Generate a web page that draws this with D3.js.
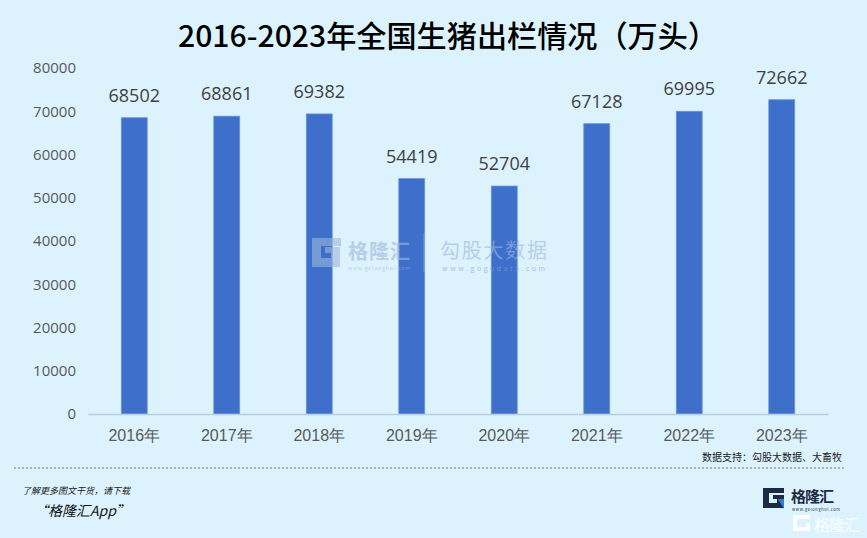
<!DOCTYPE html>
<html><head><meta charset="utf-8">
<script src="https://cdn.jsdelivr.net/npm/d3@7"></script>
<style>
html,body{margin:0;padding:0;background:#dcf3fe;}
svg{display:block;font-family:"Noto Sans CJK SC","Noto Sans",sans-serif;}
</style></head><body>
<svg id="c" width="867" height="538"></svg>
<script>
const categories = ["2016年","2017年","2018年","2019年","2020年","2021年","2022年","2023年"];
const values = [68502, 68861, 69382, 54419, 52704, 67128, 69995, 72662];
const yTicks = [0,10000,20000,30000,40000,50000,60000,70000,80000];
const title = "2016-2023年全国生猪出栏情况（万头）";
const source = "数据支持：勾股大数据、大畜牧";

const svg = d3.select("#c");
svg.append("rect").attr("width",867).attr("height",538).attr("fill","#dcf3fe");

const x = d3.scaleBand().domain(categories).range([88,828]).paddingInner(0.72).paddingOuter(0.36);
const y = d3.scaleLinear().domain([0,80000]).range([414,68]);

// title
svg.append("text").attr("x",448).attr("y",47).attr("text-anchor","middle")
  .attr("font-size",30).attr("font-weight",500).attr("fill","#000")
  .attr("textLength",540).attr("lengthAdjust","spacingAndGlyphs").text(title);

// y axis
const ya = svg.append("g").attr("transform","translate(88,0)")
  .call(d3.axisLeft(y).tickValues(yTicks).tickSize(0).tickPadding(12).tickFormat(d3.format("d")));
ya.select(".domain").remove();
ya.selectAll("text").attr("font-size",15).attr("fill","#595959").attr("font-family","'Open Sans','Noto Sans',sans-serif");

// bars
svg.append("g").selectAll("rect").data(values).join("rect")
  .attr("x",(d,i)=>x(categories[i])).attr("width",x.bandwidth())
  .attr("y",d=>y(d)).attr("height",d=>y(0)-y(d))
  .attr("fill","#3d6fcb").attr("stroke","#6a93db").attr("stroke-width",0.8);

// x axis
const xa = svg.append("g").attr("transform","translate(0,414)")
  .call(d3.axisBottom(x).tickSize(0).tickPadding(16));
xa.select(".domain").attr("stroke","#b9cddd").attr("stroke-width",1.5);
xa.selectAll("text").attr("font-size",16).attr("fill","#595959");

// value labels
svg.append("g").selectAll("text").data(values).join("text")
  .attr("x",(d,i)=>x(categories[i])+x.bandwidth()/2).attr("y",d=>y(d)-16)
  .attr("text-anchor","middle").attr("font-size",18).attr("fill","#404040")
  .attr("font-family","'Open Sans','Noto Sans',sans-serif").text(d=>d);

// watermark (over bars)
const wc = "#9cb8da";
const wm = svg.append("g").attr("opacity",0.6);
wm.append("path").attr("d","M312,238 h29 v8 h-20 v12 h10 v-5 h-6 v-6 h15 v20 h-28 z").attr("fill",wc);
wm.append("text").attr("x",348).attr("y",259).attr("font-size",20).attr("font-weight","bold").attr("fill",wc)
  .attr("textLength",62).text("格隆汇");
wm.append("text").attr("x",348).attr("y",270).attr("font-size",5).attr("fill",wc)
  .attr("textLength",62).text("www.gelonghui.com");
wm.append("line").attr("x1",424).attr("x2",424).attr("y1",233).attr("y2",272).attr("stroke",wc).attr("stroke-width",1);
wm.append("text").attr("x",440).attr("y",258).attr("font-size",20).attr("fill",wc)
  .attr("textLength",107).text("勾股大数据");
wm.append("text").attr("x",442).attr("y",271).attr("font-size",7).attr("fill","#86a3cb")
  .attr("textLength",103).text("www.gogudata.com");

// source
svg.append("text").attr("x",842).attr("y",461).attr("text-anchor","end")
  .attr("font-size",10).attr("fill","#222").text(source);

// dashed separator
svg.append("line").attr("x1",14).attr("x2",845).attr("y1",468).attr("y2",468)
  .attr("stroke","#777").attr("stroke-width",1).attr("stroke-dasharray","2,2");

// footer
svg.append("text").attr("x",22).attr("y",494).attr("font-size",9).attr("font-style","italic").attr("fill","#222").text("了解更多图文干货，请下载");
svg.append("text").attr("x",34).attr("y",516).attr("font-size",14).attr("font-style","italic").attr("fill","#111").text("“格隆汇App”");

// logo
const lg = svg.append("g");
lg.append("path").attr("d","M763,488 h21 v5 h-15 v10 h8 v-4 h-4 v-4 h11 v13 h-21 z").attr("fill","#1c2a44");
lg.append("path").attr("d","M778,499 l6,10 v-10 z").attr("fill","#2f7fd6");
lg.append("text").attr("x",791).attr("y",502).attr("font-size",15).attr("font-weight","bold").attr("fill","#1c2a44")
  .attr("textLength",43).text("格隆汇");
lg.append("text").attr("x",792).attr("y",511).attr("font-size",4).attr("fill","#1c2a44")
  .attr("textLength",48).text("www.gelonghui.com");
const lw = svg.append("g").attr("opacity",0.9);
lw.append("path").attr("d","M793,515 h17 v4 h-13 v8 h9 v-4 h4 v8 h-17 z").attr("fill","#ffffff");
lw.append("text").attr("x",814).attr("y",531).attr("font-size",16).attr("fill","#ffffff")
  .attr("textLength",46).text("格隆汇");
</script>
</body></html>
